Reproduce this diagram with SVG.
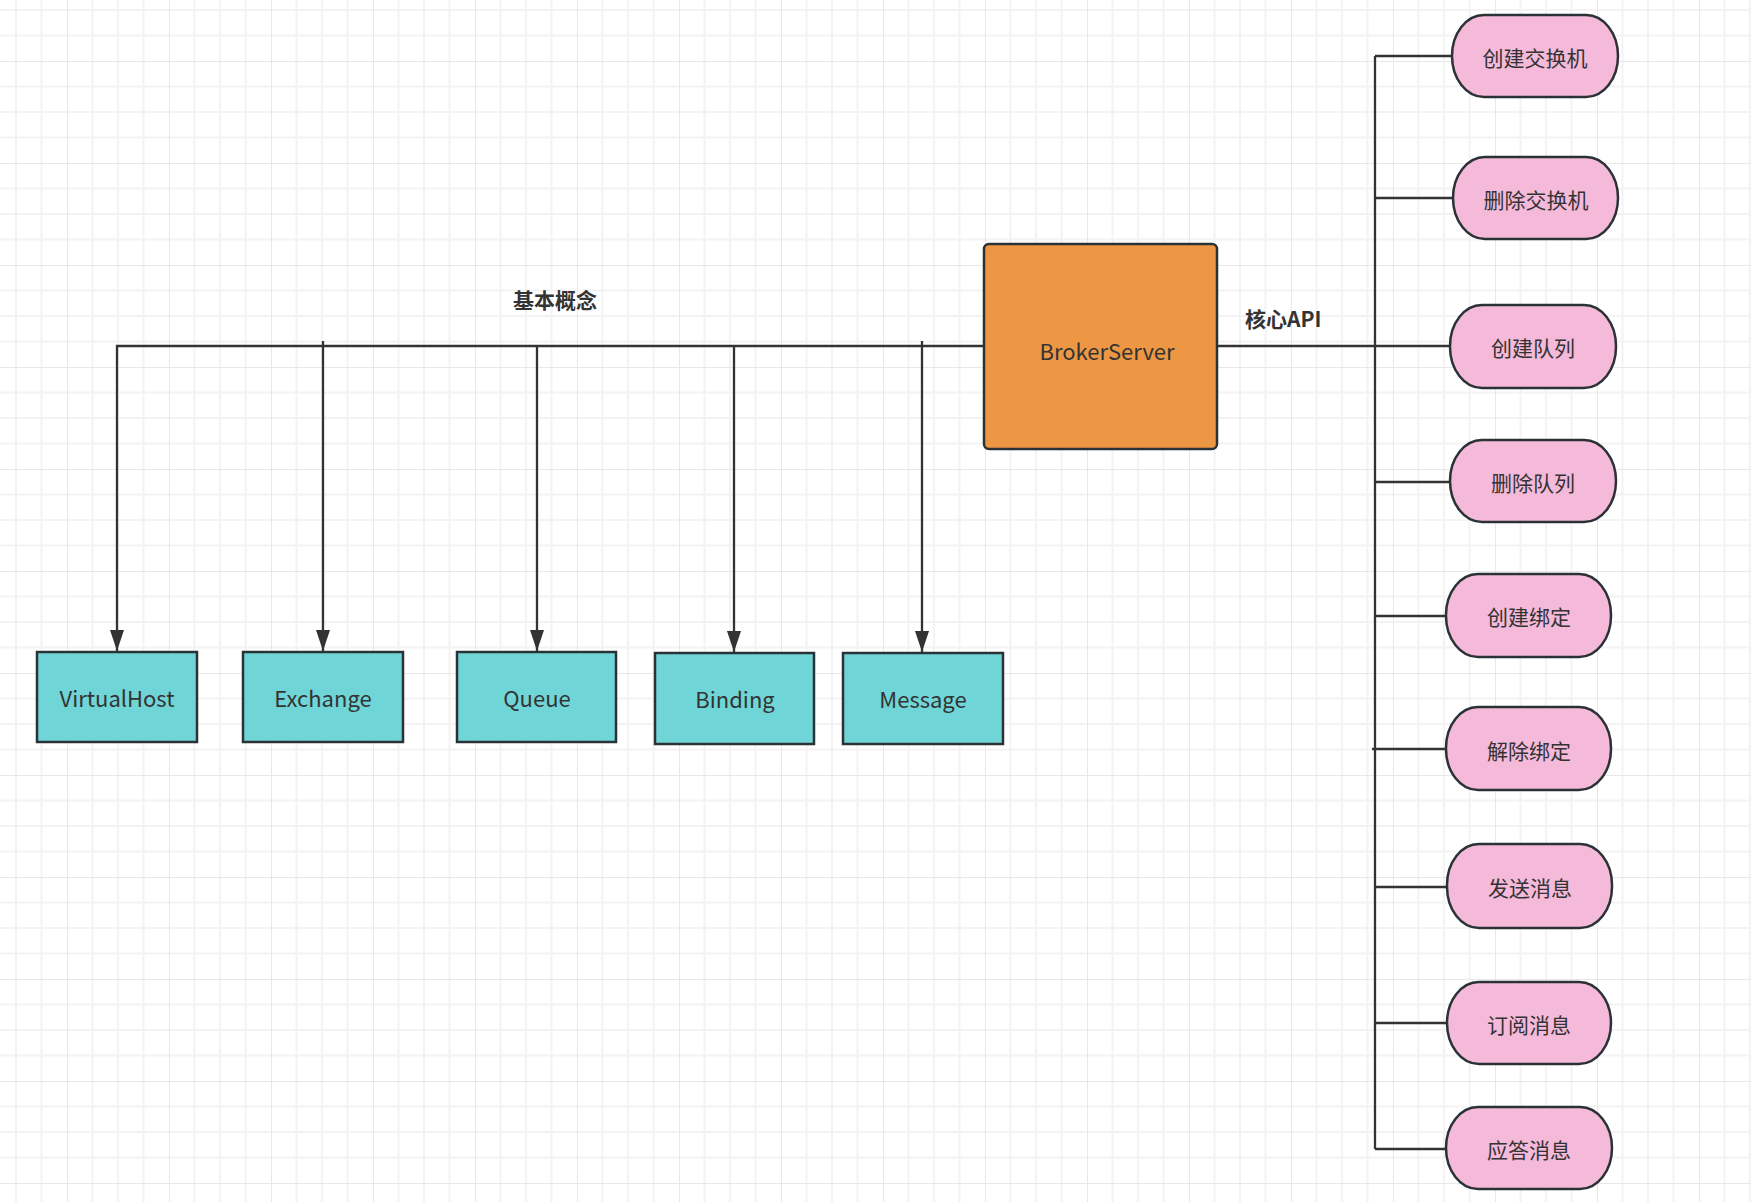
<svg xmlns="http://www.w3.org/2000/svg" width="1751" height="1202" viewBox="0 0 1751 1202">
<defs>
<pattern id="grid" patternUnits="userSpaceOnUse" x="67" y="61" width="102" height="102">
<path d="M25.5 0V102M51 0V102M76.5 0V102M0 25.5H102M0 51H102M0 76.5H102" stroke="#f3f3f3" stroke-width="2" fill="none"/>
<path d="M0 0V102M0 0H102" stroke="#e8e8e8" stroke-width="2" fill="none"/>
</pattern>
<marker id="arr" markerUnits="userSpaceOnUse" markerWidth="21" markerHeight="14" viewBox="0 0 21 14" refX="21" refY="7" orient="auto">
<path d="M0 0L21 7L0 14Z" fill="#333"/>
</marker>
</defs>
<style>
.conn{stroke:#333;stroke-width:2.3;fill:none}
.cyan{fill:#6fd5d7;stroke:#2b3236;stroke-width:2.5}
.pill{fill:#f5b9da;stroke:#2b3236;stroke-width:2.5}
.orange{fill:#ed9745;stroke:#2b3236;stroke-width:2.5}
.t{font-family:"Noto Sans CJK SC","Microsoft YaHei",sans-serif;fill:#333;text-anchor:middle;dominant-baseline:central}
.lbl{font-family:"Noto Sans CJK SC","Microsoft YaHei",sans-serif;fill:#333;font-weight:bold;font-size:21px}
</style>
<rect width="1751" height="1202" fill="#fff"/>
<rect width="1751" height="1202" fill="url(#grid)"/>

<g id="connectors">
<path class="conn" d="M984 346H117V651" marker-end="url(#arr)"/>
<path class="conn" d="M323 341V651" marker-end="url(#arr)"/>
<path class="conn" d="M537 346V651" marker-end="url(#arr)"/>
<path class="conn" d="M734 346V652" marker-end="url(#arr)"/>
<path class="conn" d="M922 341V652" marker-end="url(#arr)"/>
<path class="conn" d="M1217 346H1450"/>
<path class="conn" d="M1375 56V1149"/>
<path class="conn" d="M1375 56H1452"/>
<path class="conn" d="M1375 198H1453"/>
<path class="conn" d="M1375 482H1450"/>
<path class="conn" d="M1375 616H1446"/>
<path class="conn" d="M1372 749H1446"/>
<path class="conn" d="M1375 887H1447"/>
<path class="conn" d="M1375 1023H1447"/>
<path class="conn" d="M1375 1149H1446"/>
</g>

<text class="lbl" x="513" y="308">基本概念</text>
<text class="lbl" x="1245" y="327">核心API</text>

<g id="broker">
<rect class="orange" x="984" y="244" width="233" height="205" rx="5"/>
<text class="t" x="1107" y="350" font-size="22">BrokerServer</text>
</g>

<g id="virtualhost">
<rect class="cyan" x="37" y="652" width="160" height="90"/>
<text class="t" x="117" y="697" font-size="22">VirtualHost</text>
</g>
<g id="exchange">
<rect class="cyan" x="243" y="652" width="160" height="90"/>
<text class="t" x="323" y="697" font-size="22">Exchange</text>
</g>
<g id="queue">
<rect class="cyan" x="457" y="652" width="159" height="90"/>
<text class="t" x="537" y="697" font-size="22">Queue</text>
</g>
<g id="binding">
<rect class="cyan" x="655" y="653" width="159" height="91"/>
<text class="t" x="735" y="698" font-size="22">Binding</text>
</g>
<g id="message">
<rect class="cyan" x="843" y="653" width="160" height="91"/>
<text class="t" x="923" y="698" font-size="22">Message</text>
</g>

<g id="api1">
<rect class="pill" x="1452" y="15" width="166" height="82" rx="32" ry="41"/>
<text class="t" x="1535" y="57" font-size="21">创建交换机</text>
</g>
<g id="api2">
<rect class="pill" x="1453" y="157" width="165" height="82" rx="32" ry="41"/>
<text class="t" x="1536" y="199" font-size="21">删除交换机</text>
</g>
<g id="api3">
<rect class="pill" x="1450" y="305" width="166" height="83" rx="32" ry="41"/>
<text class="t" x="1533" y="347" font-size="21">创建队列</text>
</g>
<g id="api4">
<rect class="pill" x="1450" y="440" width="166" height="82" rx="32" ry="41"/>
<text class="t" x="1533" y="482" font-size="21">删除队列</text>
</g>
<g id="api5">
<rect class="pill" x="1446" y="574" width="165" height="83" rx="32" ry="41"/>
<text class="t" x="1529" y="616" font-size="21">创建绑定</text>
</g>
<g id="api6">
<rect class="pill" x="1446" y="707" width="165" height="83" rx="32" ry="41"/>
<text class="t" x="1529" y="750" font-size="21">解除绑定</text>
</g>
<g id="api7">
<rect class="pill" x="1447" y="844" width="165" height="84" rx="32" ry="41"/>
<text class="t" x="1530" y="887" font-size="21">发送消息</text>
</g>
<g id="api8">
<rect class="pill" x="1447" y="982" width="164" height="82" rx="32" ry="41"/>
<text class="t" x="1529" y="1024" font-size="21">订阅消息</text>
</g>
<g id="api9">
<rect class="pill" x="1446" y="1107" width="166" height="82" rx="32" ry="41"/>
<text class="t" x="1529" y="1149" font-size="21">应答消息</text>
</g>
</svg>
